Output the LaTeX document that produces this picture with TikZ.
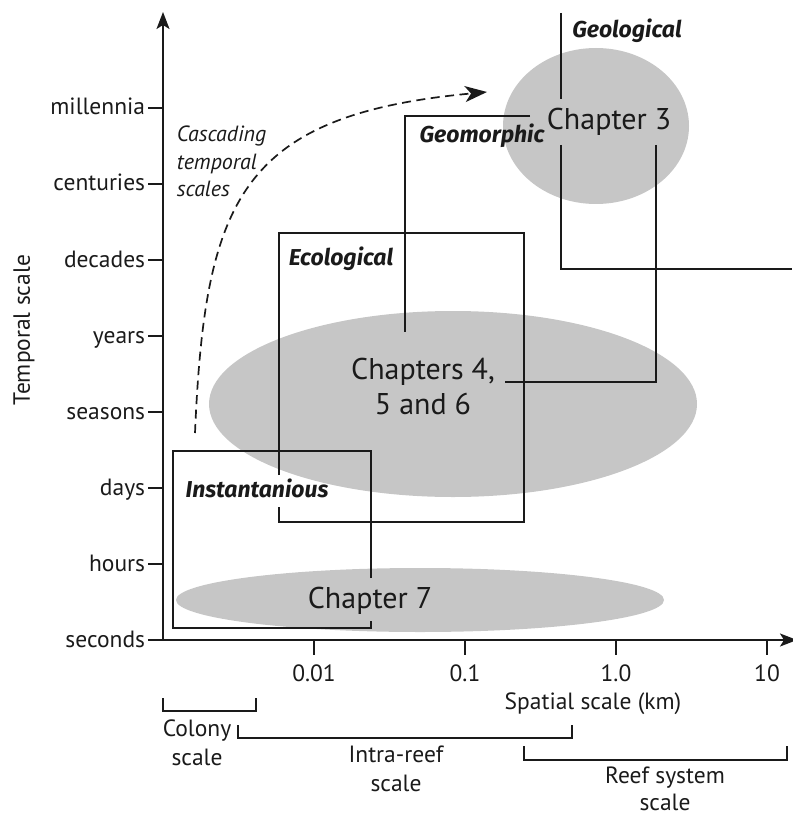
\documentclass[tikz,border=0pt]{standalone}
\usepackage{fontspec}
\setmainfont{PT Sans}
\newfontfamily\zonefont{Fira Sans}
\usetikzlibrary{arrows.meta}
\definecolor{zonegrey}{HTML}{C6C6C6}
\definecolor{ink}{HTML}{1A1A1A}

\begin{document}
\begin{tikzpicture}[x=1pt, y=-1pt, line width=1.8pt, draw=ink,
    every node/.style={font=\fontsize{23.5}{29}\selectfont, inner sep=0pt, text=ink},
    axis/.style={-{Stealth[length=17pt, width=13pt, inset=4pt]}},
    zone/.style={font=\zonefont\fontsize{23}{27}\selectfont\bfseries\itshape},
    chapter/.style={font=\fontsize{30}{35}\selectfont, align=center},
    region/.style={fill=zonegrey},
    bracket/.style={line width=1.5pt}]
    \useasboundingbox (0,0) rectangle (792,818);
    % grey regions
    \fill[region] (596,126) ellipse [x radius=93, y radius=78];
    \fill[region] (453,404) ellipse [x radius=244, y radius=93];
    \fill[region] (420,600) ellipse [x radius=244, y radius=32];
    % axes
    \coordinate (origin) at (163,640);
    \coordinate (ytip) at (163,12);
    \coordinate (xtip) at (797,640);
    \draw[axis] (origin) -- (ytip);
    \draw[axis] (origin) -- (xtip);
    \foreach \lab [count=\i from 0] in {seconds,hours,days,seasons,years,decades,centuries,millennia} {
        \draw (148,{640-76*\i}) -- (163,{640-76*\i});
        \node[anchor=base east] (time\i) at (146,{647-76*\i}) {\lab};
    }
    \foreach \lab [count=\i] in {0.01,0.1,1.0,10} {
        \draw ({163+151*\i},640) -- ({163+151*\i},655);
        \node[anchor=base] (space\i) at ({163+151*\i},681) {\lab};
    }
    \node[rotate=90] (ylab) at (24,330) {Temporal scale};
    \node[anchor=base] (xlab) at (593,709) {Spatial scale (km)};
    % scale brackets
    \draw[bracket] (163,698) -- (163,711) -- (256,711) -- (256,698);
    \draw[bracket] (238,725) -- (238,738) -- (572,738) -- (572,725);
    \draw[bracket] (524,746) -- (524,760) -- (787,760) -- (787,746);
    \node[align=center, anchor=north] (colony) at (197,719) {Colony\\scale};
    \node[align=center, anchor=north] (intra) at (396,745) {Intra-reef\\scale};
    \node[align=center, anchor=north, font=\fontsize{23.5}{27}\selectfont] (reefsys) at (665,766) {Reef system\\scale};
    % process boxes
    \draw (561,13) -- (561,99);
    \draw (561,145) -- (561,269) -- (792,269);
    \draw (530,116) -- (405,116) -- (405,332);
    \draw (656,145) -- (656,382) -- (505,382);
    \draw (279,475) -- (279,233) -- (524,233) -- (524,522) -- (279,522) -- (279,507);
    \draw (371,578) -- (371,451) -- (173,451) -- (173,628) -- (371,628) -- (371,621);
    \node[zone, anchor=base] (geol) at (627,38) {Geological};
    \node[zone, anchor=base] (geom) at (482,143) {Geomorphic};
    \node[zone, anchor=base] (ecol) at (341,265) {Ecological};
    \node[zone, anchor=base] (inst) at (257,497) {Instantanious};
    % chapters
    \node[chapter, anchor=base] (ch3) at (609,130) {Chapter 3};
    \node[chapter, anchor=north] (ch456) at (423,357) {Chapters 4,\\5 and 6};
    \node[chapter, anchor=base] (ch7) at (370,608) {Chapter 7};
    % cascade
    \node[align=left, anchor=north west, font=\fontsize{22}{27.5}\selectfont\itshape] (cascade) at (176,125) {Cascading\\temporal\\scales};
    \coordinate (dashstart) at (195,433);
    \coordinate (dashend) at (487,92);
    \draw[line width=1.7pt, dash pattern=on 9pt off 5.5pt, -{Stealth[length=22pt, width=16pt, inset=6pt]}]
        (dashstart) .. controls (205,200) and (240,115) .. (dashend);
\end{tikzpicture}
\end{document}
